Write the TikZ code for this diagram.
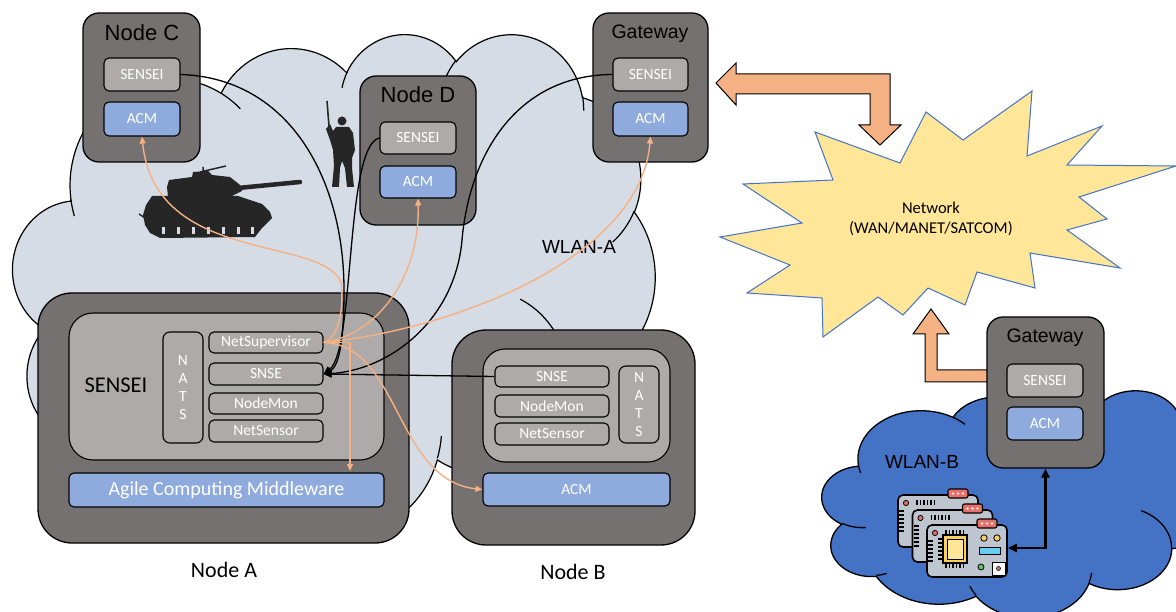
\documentclass[tikz,border=0pt]{standalone}
\usepackage{fontspec}
\setmainfont{Carlito}
\newfontfamily\arialfont{Liberation Sans}
\usepackage{tikz}
\usetikzlibrary{arrows.meta,positioning,calc}
\definecolor{hostgrey}{HTML}{767171}
\definecolor{panelgrey}{HTML}{AEAAAA}
\definecolor{acmblue}{HTML}{8FAADC}
\definecolor{wlanpale}{HTML}{D6DCE5}
\definecolor{wlandeep}{HTML}{4472C4}
\definecolor{starfill}{HTML}{FFE699}
\definecolor{peach}{HTML}{F4B183}
\definecolor{figdark}{HTML}{262626}
\definecolor{pcb}{HTML}{BFC5CE}
\definecolor{plug}{HTML}{E8706B}
\definecolor{chip}{HTML}{F5CF5F}

\newcommand{\partfont}{\fontsize{15.5}{18}\selectfont}
% cloud outline in a 432 x 432 box (y pointing down)
\newcommand{\cloudoutline}{(39.00,143.70)
  arc[start angle=-187.75,delta angle=128.11,x radius=67.53,y radius=91.90]
  arc[start angle=-152.02,delta angle=106.56,x radius=53.33,y radius=72.67]
  arc[start angle=-153.49,delta angle=116.16,x radius=43.65,y radius=59.45]
  arc[start angle=-139.72,delta angle=129.50,x radius=48.57,y radius=65.95]
  arc[start angle=-74.77,delta angle=97.99,x radius=53.33,y radius=72.73]
  arc[start angle=-37.53,delta angle=119.39,x radius=67.75,y radius=92.20]
  arc[start angle=0.46,delta angle=121.52,x radius=57.85,y radius=78.67]
  arc[start angle=16.85,delta angle=129.39,x radius=67.52,y radius=92.15]
  arc[start angle=58.98,delta angle=91.21,x radius=77.20,y radius=105.43]
  arc[start angle=83.31,delta angle=139.81,x radius=43.60,y radius=59.18]
  arc[start angle=120.36,delta angle=143.75,x radius=43.45,y radius=59.45]
  -- cycle}
% the short inner strokes between the puffs
\newcommand{\cloudseams}{
  (46.93,261.77) arc[start angle=85.54,end angle=120.36,x radius=43.45,y radius=59.45]
  (69.28,348.99) arc[start angle=68.23,end angle=83.31,x radius=43.60,y radius=59.18]
  (164.78,390.90) arc[start angle=146.24,end angle=158.47,x radius=67.52,y radius=92.15]
  (288.27,347.51) arc[start angle=4.73,end angle=16.85,x radius=67.52,y radius=92.15]
  (341.29,229.54) arc[start angle=-64.03,end angle=0.46,x radius=57.85,y radius=78.67]
  (417.98,153.54) arc[start angle=23.22,end angle=49.64,x radius=53.33,y radius=72.73]
  (383.24,54.26) arc[start angle=-10.22,end angle=0.82,x radius=48.57,y radius=65.95]
  (290.78,39.52) arc[start angle=-156.29,end angle=-139.72,x radius=48.57,y radius=65.95]
  (221.41,47.20) arc[start angle=-167.72,end angle=-153.49,x radius=43.65,y radius=59.45]
  (140.00,51.92) arc[start angle=-59.64,end angle=-45.74,x radius=67.53,y radius=91.90]
  (41.27,157.89) arc[start angle=163.19,end angle=172.25,x radius=67.53,y radius=91.90]}

\begin{document}
\begin{tikzpicture}[x=1pt,y=-1pt,
  host/.style={draw=black,line width=1.3pt,fill=hostgrey,rounded corners=16pt,inner sep=0pt},
  bighost/.style={host,rounded corners=34pt},
  panel/.style={draw=black,line width=1.1pt,fill=panelgrey,rounded corners=24pt,inner sep=0pt},
  part/.style={draw=black,line width=1.1pt,fill=panelgrey,rounded corners=5pt,inner sep=0pt,text=white,font=\partfont},
  acm/.style={part,fill=acmblue},
  title/.style={font=\arialfont\fontsize{22}{26}\selectfont,anchor=base,inner sep=0pt},
  gwtitle/.style={title,font=\arialfont\fontsize{19.5}{23}\selectfont},
  caption/.style={font=\fontsize{22}{26}\selectfont,anchor=base,inner sep=0pt},
  board/.style={draw=black,line width=1.6pt,fill=pcb,rounded corners=5pt,minimum width=80pt,minimum height=52pt,inner sep=0pt},
  block/.style={fill=peach,draw=black,line width=1pt},
  link/.style={-{Triangle[length=8pt,width=7pt]},line width=1.3pt,black},
  ctl/.style={-{Triangle[length=7pt,width=6pt]},line width=1.4pt,peach}
]
\useasboundingbox (0,0) rectangle (1176,612);

% WLAN-A
\begin{scope}[shift={(13,33)},x=1.4861pt,y=-1.1597pt]
  \filldraw[fill=wlanpale,draw=black,line width=1.2pt] \cloudoutline;
  \draw[line width=1.2pt] \cloudseams;
\end{scope}
\node[font=\arialfont\fontsize{19}{22}\selectfont,anchor=base,inner sep=0pt] (wlanA) at (579,254) {WLAN-A};

% tank
\fill[figdark] (152,196) -- (238,196) -- (262,204) -- (270,212) -- (272,218) -- (262,228)
  -- (255,237) -- (160,238) -- (150,233) -- (145,225) -- (143,215) -- (146,205) -- cycle;
\fill[figdark] (167,187) -- (169,180) -- (192,177) -- (193,172) -- (208,171) -- (212,175)
  -- (230,177) -- (240,185) -- (242,191) -- (230,197) -- (168,197) -- cycle;
\draw[figdark,line width=4.5pt,line cap=round] (238,188) -- (300,182);
\draw[figdark,line width=1.5pt] (200,172) -- (226,166) (203,173) -- (203,167);
\draw[figdark,line width=1.5pt] (145,218) -- (139,214);
\foreach \tx in {163,178,193,208,223,238,252}
  \fill[wlanpale] (\tx-1.5,227) rectangle (\tx+1.5,234);

% soldier
\draw[figdark,line width=1.6pt] (327,101) -- (329,126);
\fill[figdark] (342,121) circle (4.5);
\fill[figdark] (336,127) -- (349,127) -- (353,133) -- (355,150) -- (352,158) -- (352,168)
  -- (354,187) -- (347,187) -- (345,168) -- (342,161) -- (340,168) -- (339,187)
  -- (332,187) -- (334,166) -- (333,150) -- (330,140) -- (326,129) -- (330,124)
  -- (333,131) -- cycle;

% network
\draw[wlandeep,fill=starfill,line width=1pt] (815,132) -- (900,163) -- (926,112) -- (963,140)
  -- (1032,91) -- (1027,156) -- (1102,126) -- (1067,165) -- (1176,166) -- (1079,197)
  -- (1107,219) -- (1067,230) -- (1120,268) -- (1030,253) -- (1035,288) -- (977,272)
  -- (965,305) -- (928,288) -- (903,315) -- (878,297) -- (823,337) -- (822,298)
  -- (747,293) -- (790,265) -- (720,237) -- (802,223) -- (743,184) -- (833,180) -- cycle;
\node[font=\fontsize{16.5}{19.5}\selectfont,align=center] (net) at (931,219) {Network\\(WAN/MANET/SATCOM)};
\draw[block] (716,83) -- (736,63) -- (736,74) -- (890,74) -- (890,125) -- (901,125) -- (880,145)
  -- (859,125) -- (870,125) -- (870,94) -- (736,94) -- (736,105) -- cycle;

% Node C
\node[host,minimum width=117pt,minimum height=149pt] (nodeC) at (141.5,87.5) {};
\node[title] (nodeCname) at (142,41) {Node C};
\node[part,minimum width=76pt,minimum height=33pt] (cSensei) at (142,74.5) {SENSEI};
\node[acm,minimum width=76pt,minimum height=34pt] (cAcm) at (142,119) {ACM};

% Node D
\node[host,minimum width=116pt,minimum height=149pt] (nodeD) at (418,150.5) {};
\node[title] (nodeDname) at (418,103) {Node D};
\node[part,minimum width=76pt,minimum height=32pt] (dSensei) at (418,138) {SENSEI};
\node[acm,minimum width=76pt,minimum height=32pt] (dAcm) at (418,182) {ACM};

% gateway of WLAN-A
\node[host,minimum width=115pt,minimum height=149pt] (gwA) at (650.5,87.5) {};
\node[gwtitle] (gwAname) at (650,38.5) {Gateway};
\node[part,minimum width=75pt,minimum height=33pt] (gSensei) at (650.5,74.5) {SENSEI};
\node[acm,minimum width=75pt,minimum height=34pt] (gAcm) at (650.5,119) {ACM};

% Node A
\node[bighost,minimum width=371pt,minimum height=250pt] (nodeA) at (223.5,418) {};
\node[panel,minimum width=315pt,minimum height=147pt] (panelA) at (226.5,386.5) {};
\node[caption,font=\fontsize{22.5}{24}\selectfont] (senseiA) at (116,392) {SENSEI};
\node[part,rounded corners=7pt,minimum width=40pt,minimum height=111pt,align=center] (natsA) at (183,387.5) {N\\A\\T\\S};
\node[part,minimum width=114pt,minimum height=21pt] (supA) at (266,342.5) {NetSupervisor};
\node[part,minimum width=114pt,minimum height=22pt] (snseA) at (266,374) {SNSE};
\node[part,minimum width=114pt,minimum height=21pt] (monA) at (266,403.5) {NodeMon};
\node[part,minimum width=114pt,minimum height=22pt] (sensA) at (266,431) {NetSensor};
\node[acm,font=\fontsize{20}{22}\selectfont,minimum width=315pt,minimum height=34pt] (acmA) at (226.5,490) {Agile Computing Middleware};
\node[caption] (nodeAname) at (224,577) {Node A};

% Node B
\node[bighost,minimum width=243pt,minimum height=215pt] (nodeB) at (573.5,437.5) {};
\node[panel,rounded corners=22pt,minimum width=187pt,minimum height=113pt] (panelB) at (576.5,405.5) {};
\node[part,minimum width=114pt,minimum height=21pt] (snseB) at (552,376.5) {SNSE};
\node[part,minimum width=114pt,minimum height=22pt] (monB) at (552,406) {NodeMon};
\node[part,minimum width=114pt,minimum height=22pt] (sensB) at (552,434) {NetSensor};
\node[part,rounded corners=7pt,minimum width=40pt,minimum height=77pt,align=center] (natsB) at (639,404.5) {N\\A\\T\\S};
\node[acm,minimum width=187pt,minimum height=33pt] (bAcm) at (576.5,489.5) {ACM};
\node[caption] (nodeBname) at (573,579) {Node B};

% WLAN-B
\begin{scope}[shift={(822,390)},x=0.9352pt,y=-0.5255pt]
  \filldraw[fill=wlandeep,draw=black,line width=1.3pt] \cloudoutline;
  \draw[line width=1.3pt] \cloudseams;
\end{scope}
\node[font=\arialfont\fontsize{19}{22}\selectfont,anchor=base,inner sep=0pt] (wlanB) at (922,468) {WLAN-B};
\draw[block] (931,309) -- (949,334) -- (937,334) -- (937,370) -- (988,370) -- (988,382)
  -- (925,382) -- (925,334) -- (913,334) -- cycle;

\node[host,minimum width=117pt,minimum height=151pt] (gwB) at (1045.5,392.5) {};
\node[gwtitle] (gwBname) at (1045,343) {Gateway};
\node[part,minimum width=76pt,minimum height=33pt] (gbSensei) at (1045,380.5) {SENSEI};
\node[acm,minimum width=76pt,minimum height=33pt] (gbAcm) at (1045,423.5) {ACM};

% sensor boards
\foreach \i/\bx/\by in {1/938/521,2/952.5/536,3/967/551}{
  \node[board] (board\i) at (\bx,\by) {};
  \begin{scope}[shift={(\bx,\by)}]
    \filldraw[fill=plug,draw=black,line width=1.1pt,rounded corners=2pt] (10,-32) rectangle (30,-23);
    \foreach \dx in {15,20,25} \fill[white!85!plug] (\dx,-27.5) circle (1.3);
    \filldraw[fill=plug,draw=black,line width=0.8pt] (-32,-18) circle (2.6);
    \foreach \px in {-21,-17.5,...,-3} \draw[line width=1.2pt] (\px,-21) -- (\px,-16);
    \foreach \py in {-10,-6,...,10} \draw[line width=1.2pt] (-39,\py) -- (-34,\py);
  \end{scope}
}
\begin{scope}[shift={(967,551)}]
  \filldraw[fill=chip,draw=black,line width=1.2pt] (-24,-16) rectangle (0,12);
  \filldraw[fill=starfill,draw=black,line width=0.8pt] (-20,-12) rectangle (-4,8);
  \foreach \px in {-21,-17.5,...,-3} \draw[line width=1.2pt] (\px,12) -- (\px,17);
  \foreach \py in {-12,-8,...,8} \draw[line width=1.2pt] (-29,\py) -- (-24,\py);
  \filldraw[fill=chip,draw=black,line width=0.8pt] (17,-13) circle (3.2) (30,-13) circle (3.2);
  \filldraw[fill=cyan!60,draw=black,line width=0.8pt] (12,-4) rectangle (33,3);
  \filldraw[fill=green!60!black!60,draw=black,line width=0.8pt] (14,16) circle (3);
  \filldraw[fill=white,draw=black,line width=0.8pt] (25,11) rectangle (38,24);
  \filldraw[fill=plug,draw=black,line width=0.6pt] (31.5,17.5) circle (2);
\end{scope}
\draw[{Triangle[length=9pt,width=8pt]}-{Triangle[length=9pt,width=8pt]},line width=2.6pt]
  ([yshift=3pt]board3.east) -| (gwB.south);

% SENSEI links into the SNSE of node A
\coordinate (cBend) at (344,290);
\coordinate (gBend) at (462,240);
\draw[link] (cSensei.east) .. controls (290,78) and (344,180) .. (cBend)
  .. controls (344,335) and (340,366) .. (snseA.east);
\draw[link] (dSensei.west) .. controls (345,145) and (355,350) .. (snseA.east);
\draw[link] (gSensei.west) .. controls (520,75) and (470,150) .. (gBend)
  .. controls (455,320) and (390,370) .. (snseA.east);
\draw[link] (snseB.west) -- (snseA.east);

% NetSupervisor control to every ACM
\coordinate (hook) at (341,282);
\coordinate (acmDrop) at (350,471);
\draw[ctl] (supA.east) .. controls (340,338) and (344,305) .. (hook)
  .. controls (320,235) and (155,265) .. (cAcm.south);
\draw[ctl] (supA.east) .. controls (375,335) and (420,280) .. (dAcm.south);
\draw[ctl] (supA.east) .. controls (450,330) and (640,260) .. (gAcm.south);
\draw[ctl] (supA.east) -| (acmDrop);
\draw[ctl] (supA.east) .. controls (400,345) and (395,480) .. (bAcm.west);
\end{tikzpicture}
\end{document}
